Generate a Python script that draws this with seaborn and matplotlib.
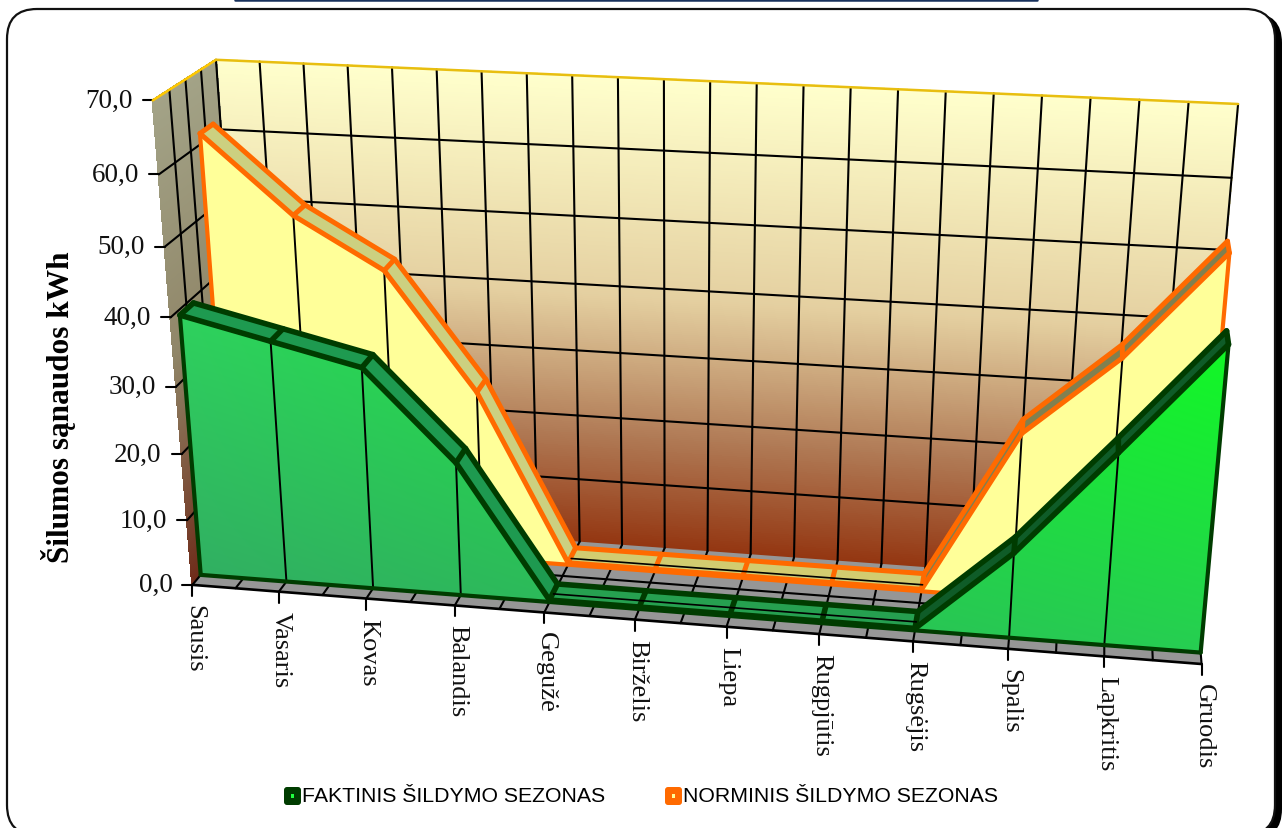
import numpy as np
import pandas as pd
import seaborn as sns
import matplotlib
matplotlib.use("Agg")
import matplotlib.pyplot as plt
from matplotlib.collections import PolyCollection
from matplotlib.colors import to_rgb
from matplotlib.patches import FancyBboxPatch, Polygon, Rectangle

months = ["Sausis", "Vasaris", "Kovas", "Balandis", "Gegužė", "Birželis",
          "Liepa", "Rugpjūtis", "Rugsėjis", "Spalis", "Lapkritis", "Gruodis"]
faktinis = [39.2, 36.2, 33.2, 20.1, 0.3, 0.3, 0.3, 0.3, 0.3, 12.6, 28.0, 43.8]
norminis = [61.5, 50.4, 43.1, 25.8, 0.3, 0.3, 0.3, 0.3, 0.3, 24.9, 36.7, 52.1]
y_ticks = [0, 10, 20, 30, 40, 50, 60, 70]
y_tick_labels = ["0,0", "10,0", "20,0", "30,0", "40,0", "50,0", "60,0", "70,0"]
y_title = "Šilumos sąnaudos kWh"
names = ["FAKTINIS ŠILDYMO SEZONAS", "NORMINIS ŠILDYMO SEZONAS"]

# Camera of the 3-D box: (month, value, depth) anchors and their canvas positions.
VIEW = [
    ((0, 0, 0), (192, 585)), ((11, 0, 0), (1202, 665)),
    ((0, 70, 0), (153, 102)), ((0, 70, 1), (216, 60)),
    ((11, 70, 1), (1238, 105)), ((0, 0, 1), (249, 519)),
    ((11, 0, 1), (1195, 588)), ((0, 40, 0), (170, 319)),
    ((0, 20, 0), (182, 455)),
]
rows = []
for (X, Y, Z), (sx, sy) in VIEW:
    Y = Y / 70
    rows.append([X, Y, Z, 1, 0, 0, 0, 0, -sx * X, -sx * Y, -sx * Z, -sx])
    rows.append([0, 0, 0, 0, X, Y, Z, 1, -sy * X, -sy * Y, -sy * Z, -sy])
CAM = np.linalg.svd(np.array(rows, float))[2][-1].reshape(3, 4)


def proj(u, v, w):
    """Project month index, value and depth (0 front, 1 back) onto the canvas."""
    h = CAM @ np.array([u, v / 70, w, 1.0])
    return h[0] / h[2], h[1] / h[2]


def ramp(stops, t):
    keys = [s[0] for s in stops]
    cols = np.array([to_rgb(s[1]) for s in stops])
    return [np.interp(t, keys, cols[:, i]) for i in range(3)]


sns.set_theme(style="white")
fig = plt.figure(figsize=(12.88, 8.29), dpi=100)
ax = fig.add_axes([0, 0, 1, 1])
ax.set_xlim(0, 1288)
ax.set_ylim(829, 0)
ax.axis("off")

# Card behind the chart, with a hard shadow on its right side.
ax.add_patch(FancyBboxPatch((14, 14), 1268, 826, boxstyle="round,pad=0,rounding_size=30",
                            fc="black", ec="none", zorder=0))
ax.add_patch(FancyBboxPatch((7, 10), 1268, 826, boxstyle="round,pad=0,rounding_size=30",
                            fc="white", ec="#111111", lw=1.6, zorder=0.1))
ax.plot([235, 1037], [0.8, 0.8], color="#17305c", lw=1.8, zorder=0.2)

# Walls painted as thin strips so the colour follows the perspective.
BACK = [(0, "#933510"), (.25, "#B07A55"), (.55, "#E4CFA0"), (1, "#FFFFCC")]
SIDE = [(0, "#6E2A18"), (.5, "#908668"), (1, "#A3A387")]
N = 240
edges = np.linspace(0, 70, N + 1)
back_strips = [[proj(0, a, 1), proj(11, a, 1), proj(11, b, 1), proj(0, b, 1)]
               for a, b in zip(edges[:-1], edges[1:])]
side_strips = [[proj(0, a, 0), proj(0, a, 1), proj(0, b, 1), proj(0, b, 0)]
               for a, b in zip(edges[:-1], edges[1:])]
mids = (edges[:-1] + edges[1:]) / 140
ax.add_collection(PolyCollection(back_strips, facecolors=[ramp(BACK, t) for t in mids],
                                 edgecolors="face", linewidths=1.0, antialiaseds=False, zorder=1))
ax.add_collection(PolyCollection(side_strips, facecolors=[ramp(SIDE, t) for t in mids],
                                 edgecolors="face", linewidths=1.0, antialiaseds=False, zorder=1))
ax.add_patch(Polygon([proj(0, 0, 0), proj(11, 0, 0), proj(11, 0, 1), proj(0, 0, 1)],
                     fc="#969696", ec="none", zorder=1.1))


def seg(p, q, **kw):
    kw.setdefault("color", "black")
    kw.setdefault("lw", 1.5)
    kw.setdefault("zorder", 1.5)
    ax.plot(*zip(p, q), solid_capstyle="round", **kw)


half = np.arange(0, 11.01, 0.5)
for u in half:
    seg(proj(u, 0, 0), proj(u, 0, 1))
    seg(proj(u, 0, 1), proj(u, 70, 1))
for w in (0.25, 0.5, 0.75):
    seg(proj(0, 0, w), proj(11, 0, w))
    seg(proj(0, 0, w), proj(0, 70, w))
for val in y_ticks[1:-1]:
    seg(proj(0, val, 0), proj(0, val, 1))
    seg(proj(0, val, 1), proj(11, val, 1))
seg(proj(0, 0, 1), proj(0, 70, 1), lw=0.8)

# Gold rim along the top of the walls, heavy line on the floor's front edge.
seg(proj(0, 70, 0), proj(0, 70, 1), color="#FFC800", lw=1.8, zorder=1.6)
seg(proj(0, 70, 1), proj(11, 70, 1), color="#E8BE10", lw=1.8, zorder=1.6)
seg(proj(0, 0, 0), proj(11, 0, 0), lw=1.9, zorder=1.6)

# Axis ticks and their labels.
for val, label in zip(y_ticks, y_tick_labels):
    x, y = proj(0, val, 0)
    seg((x - 10, y), (x, y), lw=1.5)
    ax.text(x - 20, y, label, ha="right", va="center",
            family="Liberation Serif", fontsize=19.5, color="#111111")
for i, name in enumerate(months):
    x, y = proj(i, 0, 0)
    seg((x, y), (x, y + 11), lw=1.5)
    ax.text(x + 2, y + 19, name, rotation=-90, ha="center", va="top",
            family="Liberation Serif", fontsize=19, color="#111111")
ax.text(59, 407, y_title, rotation=90, ha="center", va="center",
        family="Liberation Serif", fontsize=22.5, fontweight="bold", color="black")


def area_series(values, w_front, w_back, edge, ribbon, face, z, rim):
    n = len(values)
    # Top ribbon running through the depth of the series band.
    for i in range(n - 1):
        a, b = values[i], values[i + 1]
        key = "flat" if a == b else ("down" if b < a else "up")
        ax.add_patch(Polygon([proj(i, a, w_front), proj(i + 1, b, w_front),
                              proj(i + 1, b, w_back), proj(i, a, w_back)],
                             fc=ribbon[key], ec="none", zorder=z))
    # Front face.
    outline = [proj(i, values[i], w_front) for i in range(n)]
    outline += [proj(n - 1, 0, w_front), proj(0, 0, w_front)]
    if callable(face):
        poly = Polygon(outline, fc="none", ec="none", transform=ax.transData)
        ax.add_patch(poly)
        gx, gy = np.meshgrid(np.linspace(0, 1, 96), np.linspace(0, 1, 64))
        im = ax.imshow(face(gx, gy), extent=(150, 1240, 680, 300), aspect="auto",
                       interpolation="bilinear", zorder=z + 0.01)
        im.set_clip_path(poly)
    else:
        ax.add_patch(Polygon(outline, fc=face, ec="none", zorder=z + 0.01))
    # Month drop lines on the face.
    for i in range(1, n - 1):
        if values[i] > 2:
            seg(proj(i, values[i], w_front), proj(i, 0, w_front), lw=1.4, zorder=z + 0.02)
    # Floor lines show through the nearly flat stretch of the ribbon.
    w_mid = round((w_front + w_back) * 2) / 4
    low = [i for i, v in enumerate(values) if v < 2]
    seg(proj(low[0], 0, w_mid), proj(low[-1], 0, w_mid), lw=1.2, zorder=z + 0.05)
    # Closing edges and cross pieces.
    seg(proj(0, values[0], w_front), proj(0, 0, w_front), color=edge, lw=3.0, zorder=z + 0.03)
    seg(proj(n - 1, values[-1], w_front), proj(n - 1, 0, w_front), color=edge, lw=3.0, zorder=z + 0.03)
    seg(proj(0, 0, w_front), proj(n - 1, 0, w_front), color=edge, lw=3.0, zorder=z + 0.03)
    for i in range(n):
        seg(proj(i, values[i], w_front), proj(i, values[i], w_back), color=edge, lw=rim, zorder=z + 0.04)
    # Long edges of the ribbon.
    for w in (w_front, w_back):
        pts = np.array([proj(i, values[i], w) for i in range(n)])
        frame = pd.DataFrame({"sx": pts[:, 0], "sy": pts[:, 1]})
        sns.lineplot(data=frame, x="sx", y="sy", sort=False, estimator=None, color=edge,
                     lw=rim, ax=ax, legend=False, zorder=z + 0.04,
                     solid_joinstyle="round", solid_capstyle="round")


def green_face(gx, gy):
    tl, tr, bl, br = [np.array(to_rgb(c)) for c in ("#2FD25F", "#0EFF1E", "#33A065", "#28CC55")]
    gx = gx[..., None]
    gy = gy[..., None]
    return np.clip((1 - gy) * ((1 - gx) * tl + gx * tr) + gy * ((1 - gx) * bl + gx * br), 0, 1)


area_series(norminis, 0.66, 0.88, "#FF6A00",
            {"down": "#CCD080", "flat": "#D2CC70", "up": "#808050"}, "#FFFF99", 2, 3.6)
area_series(faktinis, 0.14, 0.36, "#003C00",
            {"down": "#1E9A50", "flat": "#26A050", "up": "#0F5C28"}, green_face, 3, 4.0)

# Legend keys with their small centre dot.
for x0, edge, dot, name in [(284, "#003C00", "#20FF40", names[0]), (665, "#FF6A00", "#FFFF99", names[1])]:
    ax.add_patch(FancyBboxPatch((x0, 788), 17, 18, boxstyle="round,pad=0,rounding_size=3",
                                fc=edge, ec="none", zorder=5))
    ax.add_patch(Rectangle((x0 + 7, 795), 3, 4, fc=dot, ec="none", zorder=5.1))
    ax.text(x0 + 18.5, 797, name, ha="left", va="center", family="Liberation Sans",
            fontsize=15.3, color="black", zorder=5)

ax.set_xlim(0, 1288)
ax.set_ylim(829, 0)
ax.set_xlabel("")
ax.set_ylabel("")
fig.savefig("out.png", dpi=100)
